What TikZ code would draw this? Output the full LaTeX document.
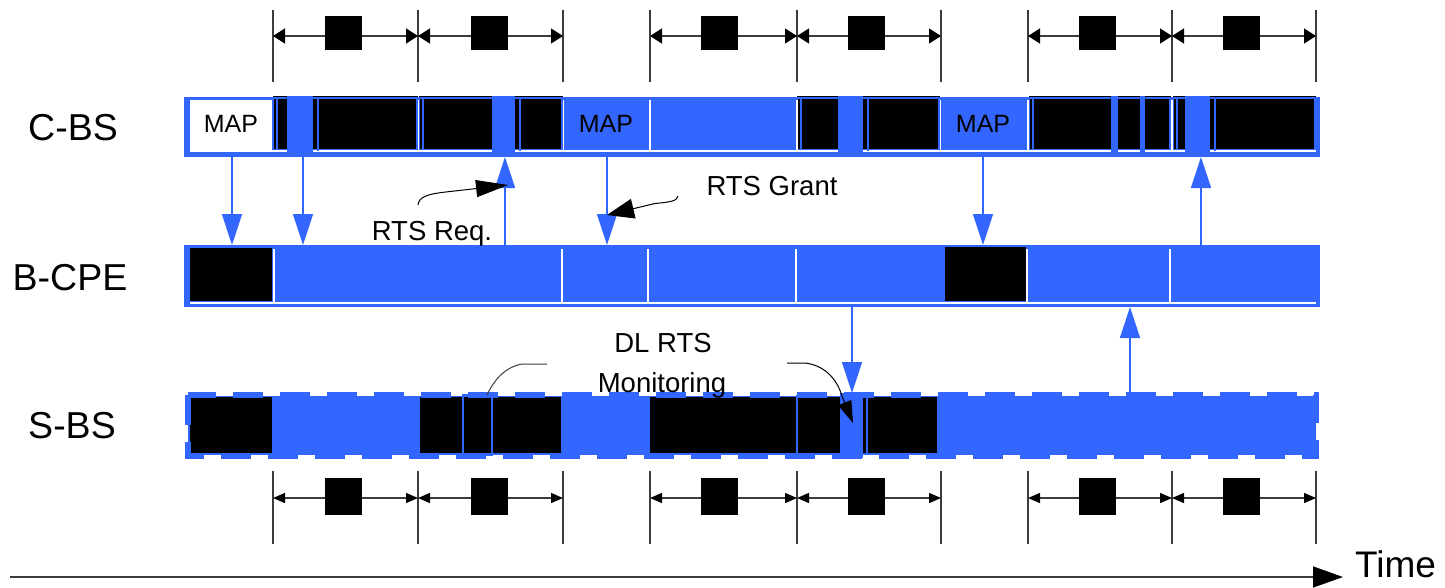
\documentclass[tikz,border=0pt]{standalone}
\usepackage{fontspec}
\setmainfont{Liberation Sans}
\usetikzlibrary{arrows.meta}
\definecolor{slotblue}{RGB}{51,102,255}
\definecolor{tickgray}{RGB}{60,60,60}

\begin{document}
\begin{tikzpicture}[x=1pt,y=-1pt,
  rowlabel/.style={font=\fontsize{37.5}{45}\selectfont,anchor=base,inner sep=0},
  maplabel/.style={font=\fontsize{25}{30}\selectfont,anchor=base,inner sep=0},
  note/.style={font=\fontsize{27.5}{33}\selectfont,anchor=base,inner sep=0},
  tick/.style={draw=tickgray,line width=1.4pt},
  span/.style={draw=tickgray,line width=1.4pt,
    {Triangle[length=12pt,width=15pt,color=black]}-{Triangle[length=12pt,width=15pt,color=black]}},
  spanlow/.style={draw=tickgray,line width=1.4pt,
    {Triangle[length=12pt,width=10pt,color=black]}-{Triangle[length=12pt,width=10pt,color=black]}},
  tag/.style={fill=black,minimum width=37pt,minimum height=34pt,inner sep=0,outer sep=0},
  taglow/.style={tag,minimum height=37pt},
  link/.style={draw=slotblue,line width=1.5pt,-{Triangle[length=31pt,width=20pt]}},
  callout/.style={draw=black,line width=1pt,-{Triangle[length=32pt,width=17pt]}},
  slotbar/.style={fill=slotblue},
  blackcell/.style={fill=black},
  edge/.style={draw=slotblue,line width=2.5pt},
  gap/.style={draw=white,line width=2pt},
]
\useasboundingbox (0,0) rectangle (1445,587);

% ---------- frame spans above and below the rows ----------
\foreach \i/\x in {1/273,2/418,3/563,4/650,5/797,6/941,7/1028,8/1172,9/1316}{
  \coordinate (up\i)  at (\x,10);
  \coordinate (upb\i) at (\x,82);
  \coordinate (ua\i)  at (\x,36);
  \coordinate (lo\i)  at (\x,471);
  \coordinate (lob\i) at (\x,544);
  \coordinate (la\i)  at (\x,498);
  \draw[tick] (up\i) -- (upb\i);
  \draw[tick] (lo\i) -- (lob\i);
}
\foreach \a/\b in {1/2,2/3,4/5,5/6,7/8,8/9}{
  \draw[span] (ua\a) -- (ua\b);
  \draw[spanlow] (la\a) -- (la\b);
}
\foreach \i/\x in {1/343,2/489.5,3/719.5,4/866,5/1097,6/1241}{
  \node[tag] (ut\i) at (\x,33) {};
  \node[taglow] (lt\i) at (\x,496.5) {};
}

% ---------- row labels ----------
\node[rowlabel] (lcbs)  at (73,140) {C-BS};
\node[rowlabel] (lbcpe) at (70,290) {B-CPE};
\node[rowlabel] (lsbs)  at (72,438) {S-BS};

% ---------- C-BS row ----------
\fill[slotblue] (184,97) rectangle (1320,157);
\fill[white] (190,149.5) rectangle (1316,151.5);
\foreach \x in {418,563,650,797,940,1028,1172}
  \draw[gap] (\x,100) -- (\x,151);
\fill[white] (190,100) rectangle (272,150);
\foreach \a/\b in {273/418,419/563,797/940,1029/1171,1173/1316}{
  \draw[black,line width=1pt] (\a,96) -- (\b,96);
  \fill[blackcell] (\a+1,99) rectangle (\b-1,148.5);
  \draw[edge] (\a+4,99) -- (\a+4,150);
  \draw[edge] (\b-1,99) -- (\b-1,150);
}
\foreach \a/\b in {287/313,492/515,838/863,1111/1118,1140/1145,1185/1210}
  \fill[slotbar] (\a,96) rectangle (\b,157);
\foreach \x in {318,520,868,1215}
  \draw[edge] (\x,99) -- (\x,151);
\node[maplabel] (map1) at (231,132) {MAP};
\node[maplabel] (map2) at (606,132) {MAP};
\node[maplabel] (map3) at (983,132) {MAP};

% ---------- B-CPE row ----------
\fill[slotblue] (184,245) rectangle (1320,307);
\fill[white] (190,301.5) rectangle (1316,303.5);
\foreach \x in {273.5,562,648,796,1027,1170}
  \draw[gap] (\x,249) -- (\x,303);
\fill[blackcell] (190,248) rectangle (272,301);
\fill[blackcell] (945,247) rectangle (1025.5,301);

% ---------- S-BS row ----------
\fill[slotblue] (188,396) rectangle (1316,455);
\fill[blackcell] (190,397) rectangle (272,453);
\fill[blackcell] (420,397) rectangle (561,453);
\fill[blackcell] (650,397) rectangle (937,453);
\draw[slotblue,line width=1.5pt] (463,395) rectangle (492,455);
\draw[slotblue,line width=1.5pt] (797,395) -- (797,455);
\fill[slotbar] (840,393) rectangle (863,458);
\draw[edge] (867,395) -- (867,455);
\draw[slotblue,line width=6pt,dash pattern=on 30pt off 17pt] (188,395) rectangle (1316,456);

% ---------- messages between the rows ----------
\foreach \n/\x in {1/232,2/303,3/607,4/983}{
  \coordinate (cs\n) at (\x,157);
  \coordinate (bn\n) at (\x,245);
  \draw[link] (cs\n) -- (bn\n);
}
\foreach \n/\x in {5/505,6/1201}{
  \coordinate (bn\n) at (\x,245);
  \coordinate (cs\n) at (\x,157);
  \draw[link] (bn\n) -- (cs\n);
}
\coordinate (bs7) at (852,307);
\coordinate (sn7) at (852,393);
\draw[link] (bs7) -- (sn7);
\coordinate (sn8) at (1130,393);
\coordinate (bs8) at (1130,307);
\draw[link] (sn8) -- (bs8);

% ---------- annotations ----------
\node[note] (req)   at (432,240) {RTS Req.};
\node[note] (grant) at (772,195) {RTS Grant};
\node[note] (dl1)   at (663,352) {DL RTS};
\node[note] (dl2)   at (662,392) {Monitoring};

\coordinate (reqfoot) at (418,205);
\coordinate (reqtip)  at (508,185);
\draw[callout] (reqfoot) .. controls (419,197) and (426,194) .. (450,191.5) -- (reqtip);

\coordinate (grantfoot) at (678,196);
\coordinate (granttip)  at (607,215);
\draw[callout,-{Triangle[length=27pt,width=20pt]}] (grantfoot) .. controls (677,201) and (671,202) .. (655,203.5) -- (granttip);

\coordinate (dlleft)  at (547,364);
\coordinate (dlfootl) at (487,395);
\draw[draw=tickgray,line width=1pt] (dlleft) -- (522,364) .. controls (505,367) and (494,380) .. (dlfootl);

\coordinate (dlright) at (787,363);
\coordinate (dltip)   at (853,423);
\draw[callout,-{Triangle[length=22pt,width=14pt]}] (dlright) -- (805,363) .. controls (822,365) and (836,376) .. (842,396) -- (dltip);

% ---------- time axis ----------
\coordinate (tstart) at (10,577);
\coordinate (tend)   at (1343,577);
\draw[draw=tickgray,line width=1.5pt,-{Triangle[length=30pt,width=21pt,color=black]}] (tstart) -- (tend);
\node[rowlabel,font=\fontsize{37}{44}\selectfont,anchor=base west] (time) at (1355,577) {Time};
\end{tikzpicture}
\end{document}
